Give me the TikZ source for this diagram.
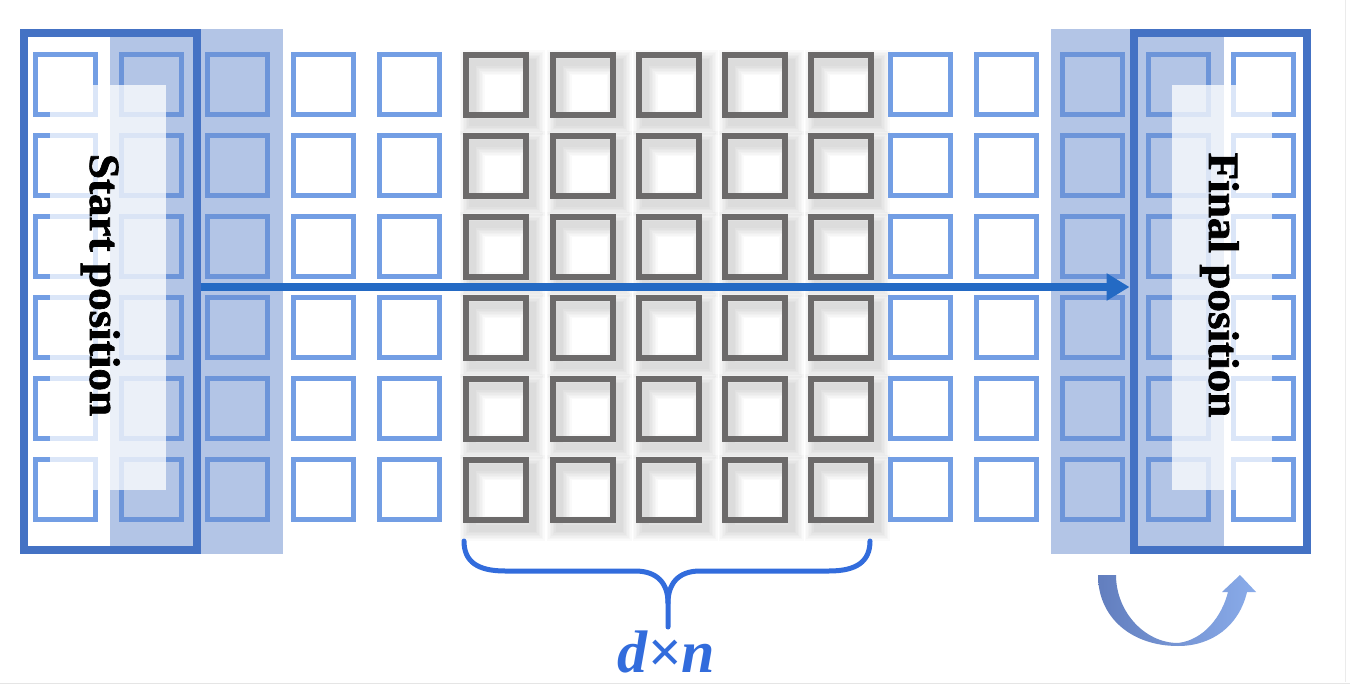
\documentclass[tikz,border=0pt]{standalone}
\usepackage{fontspec}
\setmainfont{Liberation Serif}
\newfontfamily\heavyserif{Liberation Serif}[BoldFeatures={FakeBold=1.6}]
\usepackage{graphicx}
\usetikzlibrary{arrows.meta}
\definecolor{sqblue}{RGB}{115,158,228}
\definecolor{sqgray}{RGB}{108,106,106}
\definecolor{frameblue}{RGB}{68,114,196}
\definecolor{shadeblue}{RGB}{105,141,207}
\definecolor{arrowblue}{RGB}{36,106,196}
\definecolor{braceblue}{RGB}{50,108,220}
\definecolor{curvea}{RGB}{98,126,190}
\definecolor{curveb}{RGB}{138,172,234}
\tikzset{
  bluesq/.style={draw=sqblue, line width=5pt},
  graysq/.style={draw=sqgray, line width=6pt},
  sqshadow/.style={draw=black, draw opacity=0.018},
  shadeband/.style={fill=shadeblue, fill opacity=0.5, draw=none},
  whitebox/.style={fill=white, fill opacity=0.75, draw=none},
  posframe/.style={draw=frameblue, line width=8pt, minimum width=173pt, minimum height=517pt, inner sep=0pt},
  poslabel/.style={rotate=-90, anchor=base, font=\fontsize{43}{43}\heavyserif\bfseries},
  mainarrow/.style={draw=arrowblue, line width=7.5pt, -{Triangle[length=23pt,width=26pt]}},
  bracestyle/.style={draw=braceblue, line width=5pt},
  dnlabel/.style={anchor=base, text=braceblue, font=\fontsize{60}{60}\selectfont\bfseries\itshape},
}
\begin{document}
\begin{tikzpicture}[x=1pt,y=-1pt]
\useasboundingbox (0,0) rectangle (1350,684);
\fill[white] (0,0) rectangle (1350,684);
\draw[black!10, line width=1pt] (0,683) -- (1350,683);
\draw[black!8, line width=1pt] (1345,0) -- (1345,682);

% shadows of the gray squares
\foreach \x in {463,550,636,722,808} {
  \foreach \y in {52,133,214,295,376,457} {
    \foreach \i in {1,...,7} {
      \draw[sqshadow, line width={4+3*\i}] (\x+3+6,\y+3+8) rectangle ++(60,60);
    }
  }
}
% gray squares
\foreach \x in {463,550,636,722,808} {
  \foreach \y in {52,133,214,295,376,457} {
    \draw[graysq] (\x+3,\y+3) rectangle ++(60,60);
  }
}
% blue squares
\foreach \x in {33,119,205,291,377,888,974,1060,1146,1231} {
  \foreach \y in {52,133,214,295,376,457} {
    \draw[bluesq] (\x+2.5,\y+2.5) rectangle ++(60,60);
  }
}

% shaded bands
\fill[shadeband] (110,29) rectangle (283,554);
\fill[shadeband] (1051,29) rectangle (1224,554);
% white label boxes
\fill[whitebox] (50,85) rectangle (166,490);
\fill[whitebox] (1172,85) rectangle (1272,490);

% frames
\node[posframe] (startframe) at (110,291.5) {};
\node[posframe] (finalframe) at (1220,291.5) {};

% labels
\node[poslabel] (startlabel) at (90,285) {\scalebox{1.05}[1]{Start position}};
\node[poslabel] (finallabel) at (1209,285) {\scalebox{1.05}[1]{Final position}};

% main arrow
\draw[mainarrow] ([yshift=4.5pt]startframe.east) -- ([yshift=4.5pt]finalframe.west);

% brace
\draw[bracestyle, line cap=round]
  (464,541) .. controls (464,562) and (478,571) .. (505,571)
  -- (635,571) .. controls (658,571) and (668,584) .. (668,603)
  -- (668,627);
\draw[bracestyle, line cap=round]
  (870,541) .. controls (870,562) and (856,571) .. (829,571)
  -- (700,571) .. controls (678,571) and (668,584) .. (668,603);
\node[dnlabel] (dn) at (666,672) {d×n};

% curved arrow
\shade[left color=curvea, right color=curveb]
  (1098,575) -- (1116,575)
  .. controls (1116,612) and (1145,643) .. (1178,643)
  .. controls (1204,640) and (1222,616) .. (1228,592)
  -- (1222,592) -- (1240,575) -- (1256,592) -- (1247,592)
  .. controls (1239,626) and (1212,646) .. (1178,646)
  .. controls (1132,646) and (1098,618) .. cycle;
\end{tikzpicture}
\end{document}
